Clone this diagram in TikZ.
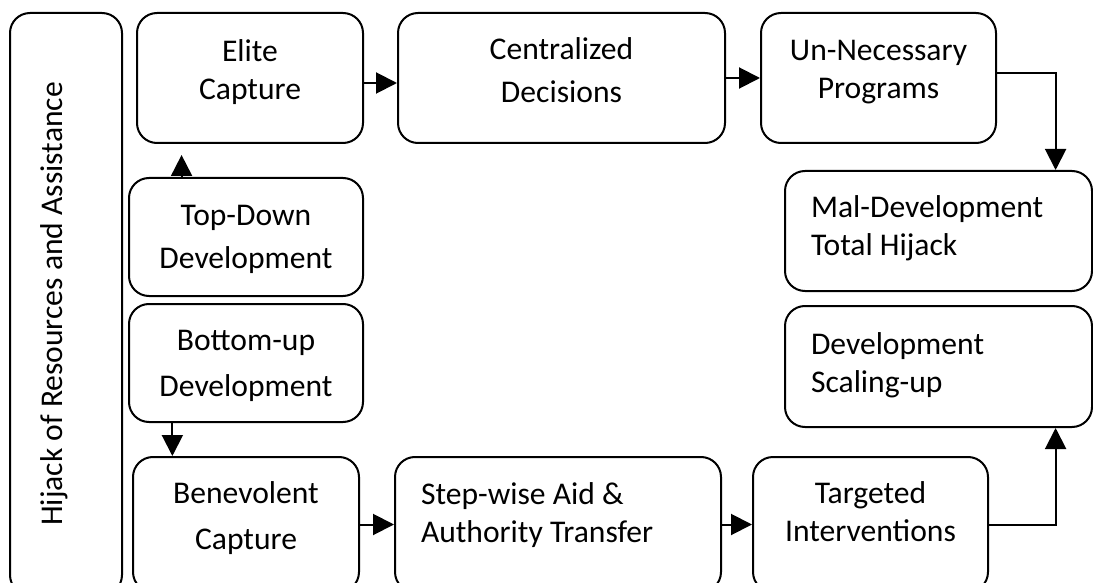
\documentclass[tikz,border=0pt]{standalone}
\usepackage{fontspec}
\setmainfont{Carlito}
\usetikzlibrary{arrows.meta,calc,positioning}

\begin{document}
\begin{tikzpicture}[x=0.5pt,y=-0.5pt,
  box/.style={draw,line width=1pt,rounded corners=10pt,align=center,inner sep=0pt,font=\fontsize{15.8}{19}\selectfont},
  lbox/.style={box,align=flush left,inner xsep=13pt},
  arr/.style={line width=1pt,-{Triangle[length=10.5pt,width=10.5pt]}}]
\useasboundingbox (0,0) rectangle (1093,583);
\clip (0,0) rectangle (1093,583);
\node[box,minimum width=291pt,minimum height=56pt,rotate=90,text depth=14pt] (hij) at (66,304) {Hijack of Resources and Assistance};
\node[box,minimum width=113pt,minimum height=65pt,text depth=8.5pt] (elite) at (250,78) {Elite\\Capture};
\node[box,minimum width=163.5pt,minimum height=65pt,text depth=7.5pt] (central) at (561.5,78) {Centralized\\[2.5pt]Decisions};
\node[box,minimum width=117.5pt,minimum height=65pt,text depth=8.5pt] (unnec) at (878.5,78) {Un-Necessary\\Programs};
\node[box,minimum width=117pt,minimum height=59pt,text depth=0pt] (topdown) at (246,237) {Top-Down\\[2.5pt]Development};
\node[box,minimum width=117pt,minimum height=59pt,text depth=0pt] (bottomup) at (246,363) {Bottom-up\\[4pt]Development};
\node[lbox,text width=127.5pt,minimum height=60pt,text depth=24.5pt] (mal) at (938.5,231) {Mal-Development\\Total Hijack};
\node[lbox,text width=127.5pt,minimum height=60.5pt,text depth=23pt] (devsc) at (938.5,366.5) {Development\\Scaling-up};
\node[box,minimum width=113pt,minimum height=67.5pt,text depth=8.5pt] (benev) at (246,524.5) {Benevolent\\[4pt]Capture};
\node[lbox,text width=137pt,minimum height=67.5pt,text depth=31pt] (step) at (558,524.5) {Step-wise Aid \&\\Authority Transfer};
\node[box,minimum width=117.5pt,minimum height=67.5pt,text depth=13pt] (targ) at (870.5,524.5) {Targeted\\Interventions};
\coordinate (tdout) at ($(topdown.north west)!0.227!(topdown.north east)$);
\coordinate (buout) at ($(bottomup.south west)!0.188!(bottomup.south east)$);
\coordinate (malin) at ($(mal.north west)!0.879!(mal.north east)$);
\coordinate (devin) at ($(devsc.south west)!0.879!(devsc.south east)$);
\draw[arr] ([yshift=-2.5pt]elite.east) -- ([yshift=-2.5pt]elite.east -| central.west);
\draw[arr] (central) -- (unnec);
\draw[arr] ([yshift=2.5pt]unnec.east) -| (malin);
\draw[arr,shorten >=5.5pt] (tdout) -- (tdout |- elite.south);
\draw[arr] (buout) -- (buout |- benev.north);
\draw[arr] (benev) -- (step);
\draw[arr] (step) -- (targ);
\draw[arr] (targ.east) -| (devin);
\end{tikzpicture}
\end{document}
